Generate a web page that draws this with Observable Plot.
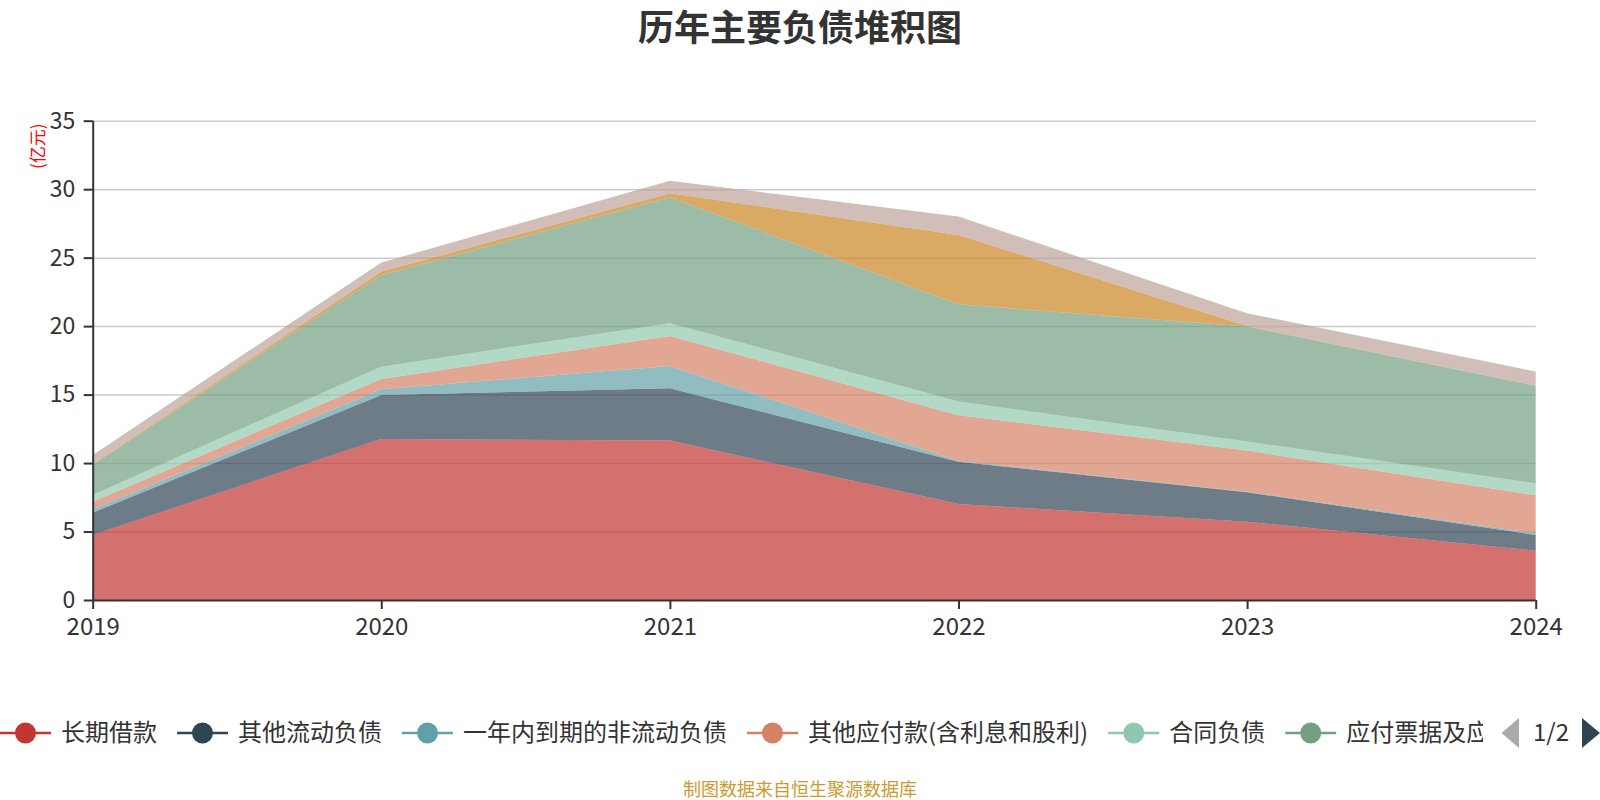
<!DOCTYPE html>
<html>
<head>
<meta charset="utf-8">
<script src="https://cdn.jsdelivr.net/npm/d3@7"></script>
<script src="https://cdn.jsdelivr.net/npm/@observablehq/plot@0.6"></script>
<style>
  html, body { margin: 0; padding: 0; background: #fff; }
  #wrap { position: relative; width: 1600px; height: 800px; overflow: hidden; font-family: "Noto Sans CJK SC", "Noto Sans", sans-serif; }
  #title { position: absolute; left: 0; top: 2px; width: 1600px; text-align: center; font-size: 36px; font-weight: bold; color: #333; line-height: 46px; z-index: 2; }
  #chart { position: absolute; left: 0; top: 0; }
  #legend { position: absolute; left: 0; top: 703px; }
  #caption { position: absolute; left: 0; top: 776px; width: 1600px; text-align: center; font-size: 18px; color: #cc9a2e; line-height: 24px; }
</style>
</head>
<body>
<div id="wrap">
  <div id="chart"></div>
  <div id="title">历年主要负债堆积图</div>
  <svg id="legend" width="1600" height="60"></svg>
  <div id="caption">制图数据来自恒生聚源数据库</div>
</div>
<script>
const years = [2019, 2020, 2021, 2022, 2023, 2024];
const seriesNames = ["长期借款", "其他流动负债", "一年内到期的非流动负债", "其他应付款(含利息和股利)", "合同负债", "应付票据及应付账款", "短期借款", "应付职工薪酬"];
const longLoans      = [4.75, 11.76, 11.64, 7.01, 5.72, 3.60];
const otherCurrent   = [1.63, 3.21, 3.82, 3.09, 2.15, 1.15];
const dueWithinYear  = [0.24, 0.42, 1.63, 0.05, 0.04, 0.12];
const otherPayables  = [0.56, 0.75, 2.19, 3.34, 3.00, 2.78];
const contractLiab   = [0.49, 0.90, 0.93, 1.00, 0.66, 0.87];
const notesPayable   = [2.19, 6.70, 9.20, 7.11, 8.40, 7.13];
const shortLoans     = [0.05, 0.24, 0.30, 5.06, 0.04, 0.00];
const staffPay       = [0.68, 0.66, 0.90, 1.34, 0.93, 1.03];
const seriesValues = [longLoans, otherCurrent, dueWithinYear, otherPayables, contractLiab, notesPayable, shortLoans, staffPay];
const palette = ["#c23531", "#2f4554", "#61a0a8", "#d48265", "#91c7ae", "#749f83", "#ca8622", "#bda29a"];
const yTicks = [0, 5, 10, 15, 20, 25, 30, 35];
const legendCount = 6;
const unitLabel = "(亿元)";

const data = seriesNames.flatMap((s, i) => years.map((y, j) => ({year: y, series: s, value: seriesValues[i][j]})));

const font = "'Noto Sans CJK SC', 'Noto Sans', sans-serif";

const chart = Plot.plot({
  width: 1600,
  height: 680,
  marginTop: 120.7,
  marginLeft: 92.7,
  marginRight: 64.3,
  marginBottom: 80,
  style: {fontFamily: font, color: "#333", background: "transparent", overflow: "visible"},
  x: {domain: [2019, 2024]},
  y: {domain: [0, 35]},
  color: {domain: seriesNames, range: palette},
  marks: [
    Plot.gridY({ticks: yTicks.filter(d => d > 0), stroke: "#ccc", strokeOpacity: 1, strokeWidth: 1.5}),
    Plot.areaY(data, {x: "year", y: "value", fill: "series", fillOpacity: 0.7, order: seriesNames}),
    Plot.ruleY([0], {stroke: "#333", strokeWidth: 2}),
    Plot.ruleX([2019], {stroke: "#333", strokeWidth: 2}),
    Plot.axisY({ticks: yTicks, tickSize: 9, tickPadding: 9, fontSize: 23, label: null, strokeWidth: 2}),
    Plot.axisX({ticks: years, tickFormat: d => String(d), tickSize: 9, tickPadding: 8, fontSize: 24, label: null, strokeWidth: 2}),
    Plot.text([unitLabel], {frameAnchor: "top-left", textAnchor: "middle", dx: -61, dy: 25, rotate: -90, fill: "red", fontSize: 17, text: d => d})
  ]
});
document.getElementById("chart").appendChild(chart);

// Legend (page 1 of 2)
const lg = d3.select("#legend");
const cy = 30;
lg.append("defs").append("clipPath").attr("id", "lgclip")
  .append("rect").attr("x", 0).attr("y", 0).attr("width", 1483).attr("height", 60);
const items = lg.append("g").attr("clip-path", "url(#lgclip)");
let x = 0;
seriesNames.slice(0, legendCount).forEach((name, i) => {
  const g = items.append("g").attr("transform", `translate(${x},0)`);
  g.append("line").attr("x1", 0).attr("x2", 51).attr("y1", cy).attr("y2", cy)
    .attr("stroke", palette[i]).attr("stroke-width", 2.5);
  g.append("circle").attr("cx", 25.5).attr("cy", cy).attr("r", 10.5).attr("fill", palette[i]);
  const t = g.append("text").attr("x", 61).attr("y", cy).attr("dy", "0.35em")
    .attr("font-size", 24).attr("fill", "#333").style("font-family", font).text(name);
  const w = t.node().getComputedTextLength();
  x += 61 + w + 20;
});
lg.append("path").attr("d", `M1519,${cy - 15}L1501.5,${cy}L1519,${cy + 15}Z`).attr("fill", "#aaa");
lg.append("text").attr("x", 1551).attr("y", cy).attr("dy", "0.35em").attr("text-anchor", "middle")
  .attr("font-size", 24).attr("fill", "#333").style("font-family", font).text("1/2");
lg.append("path").attr("d", `M1582,${cy - 15}L1600,${cy}L1582,${cy + 15}Z`).attr("fill", "#2f4554");
</script>
</body>
</html>
